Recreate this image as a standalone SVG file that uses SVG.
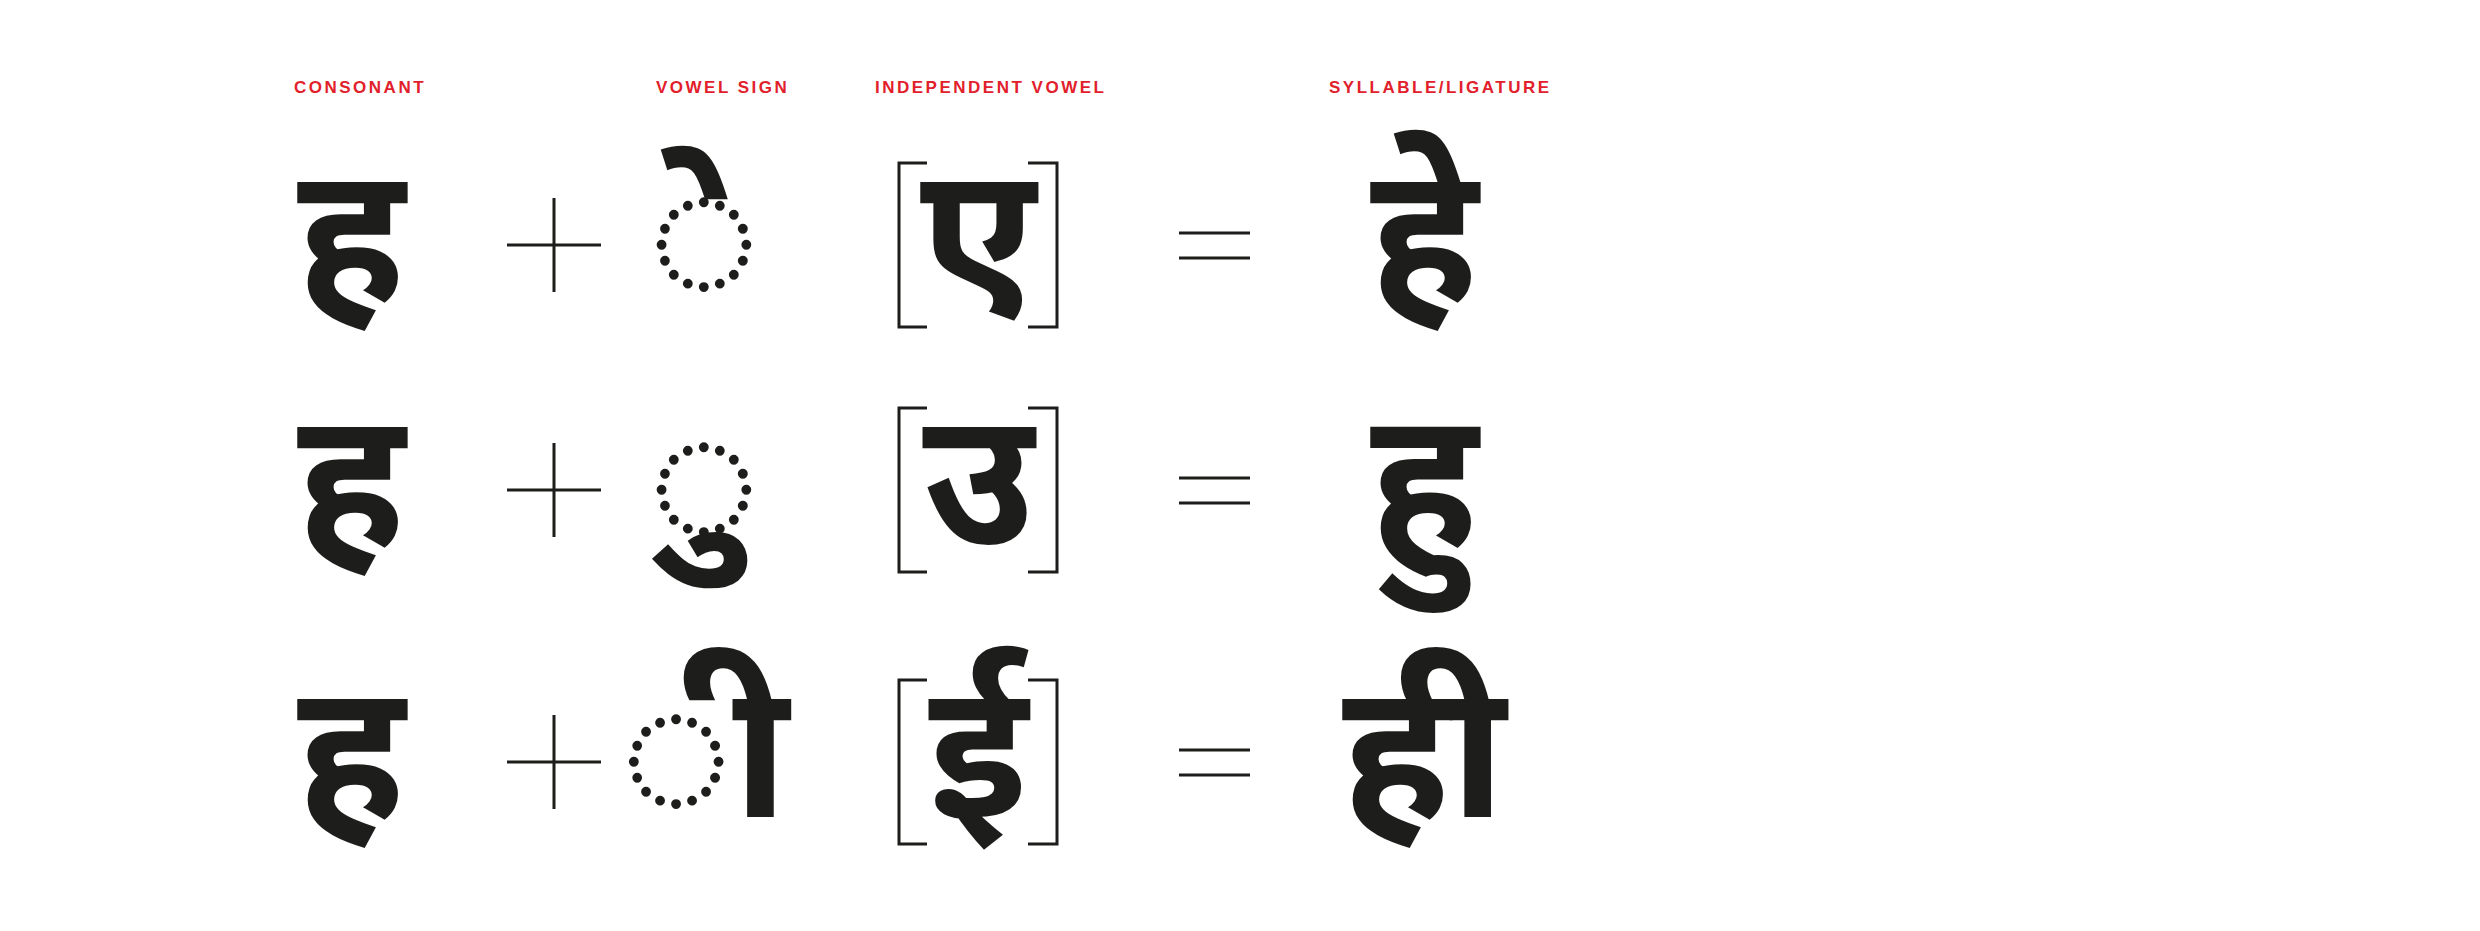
<svg xmlns="http://www.w3.org/2000/svg" width="2480" height="931" viewBox="0 0 2480 931">
<style>
.lab{font-family:"Liberation Sans",sans-serif;font-size:17px;font-weight:bold;fill:#e2202b;letter-spacing:2.5px}
.g{font-family:"Noto Sans","Noto Sans Devanagari",sans-serif;font-size:190px;font-weight:bold;fill:#1d1d1b;text-anchor:middle}
.s{stroke:#1d1d1b;stroke-width:3;fill:none}
</style>
<rect width="2480" height="931" fill="#fff"/>
<g id="labels">
<text class="lab" x="294" y="93">CONSONANT</text>
<text class="lab" x="656" y="93">VOWEL SIGN</text>
<text class="lab" x="875" y="93">INDEPENDENT VOWEL</text>
<text class="lab" x="1329" y="93">SYLLABLE/LIGATURE</text>
</g>
<g id="row1">
<text class="g" x="351" y="300">ह</text>
<text class="g" x="704" y="300">◌े</text>
<text class="g" x="978" y="300">ए</text>
<text class="g" x="1424" y="300">हे</text>
</g>
<g id="row2">
<text class="g" x="351" y="545">ह</text>
<text class="g" x="704" y="545">◌ु</text>
<text class="g" x="978" y="545">उ</text>
<text class="g" x="1424" y="545">हु</text>
</g>
<g id="row3">
<text class="g" x="351" y="817">ह</text>
<text class="g" x="704" y="817">◌ी</text>
<text class="g" x="978" y="817">ई</text>
<text class="g" x="1424" y="817">ही</text>
</g>
<g id="connectors">
<path class="s" d="M507 245h94M554 198v94M1179 233h71M1179 258h71M927 163h-28v164h28M1028 163h29v164h-29"/>
<path class="s" d="M507 490h94M554 443v94M1179 478h71M1179 503h71M927 408h-28v164h28M1028 408h29v164h-29"/>
<path class="s" d="M507 762h94M554 715v94M1179 750h71M1179 775h71M927 680h-28v164h28M1028 680h29v164h-29"/>
</g>
</svg>
